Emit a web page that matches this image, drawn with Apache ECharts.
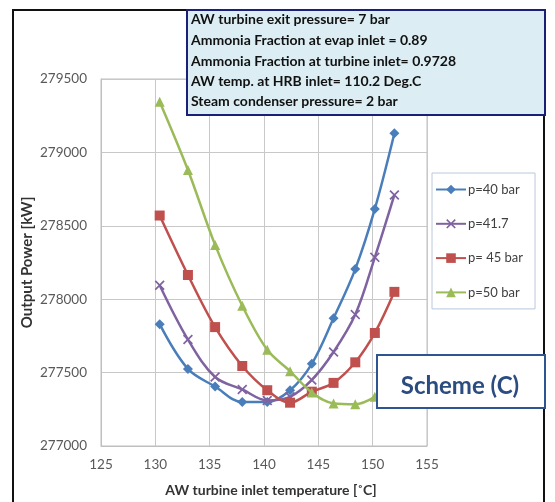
<!DOCTYPE html>
<html>
<head>
<meta charset="utf-8">
<script src="https://cdn.jsdelivr.net/npm/echarts@6/dist/echarts.min.js"></script>
<style>
html,body{margin:0;padding:0;background:#fff;}
#chart{width:555px;height:502px;}
</style>
</head>
<body>
<div id="chart"></div>
<script>
// Data
var temps = [130.4, 133.0, 135.5, 138.0, 140.3, 142.4, 144.4, 146.4, 148.4, 150.2, 152.0];
var p40  = [277830, 277525, 277405, 277300, 277300, 277380, 277560, 277870, 278205, 278615, 279130];
var p417 = [278095, 277725, 277470, 277385, 277310, 277335, 277450, 277640, 277895, 278285, 278710];
var p45  = [278570, 278165, 277810, 277545, 277380, 277295, 277370, 277430, 277570, 277770, 278050];
var p50  = [279345, 278880, 278370, 277955, 277655, 277510, 277365, 277290, 277285, 277335];
var seriesNames = ['p=40 bar', 'p=41.7', 'p= 45 bar', 'p=50 bar'];
var xTicks = [125, 130, 135, 140, 145, 150, 155];
var yTicks = [277000, 277500, 278000, 278500, 279000, 279500];
var infoLines = [
  'AW turbine exit pressure= 7 bar',
  'Ammonia Fraction at evap inlet = 0.89',
  'Ammonia Fraction at turbine inlet= 0.9728',
  'AW temp. at HRB inlet= 110.2 Deg.C',
  'Steam condenser pressure= 2 bar'
];
var schemeLabel = 'Scheme (C)';
var xTitle = 'AW turbine inlet temperature [\u02daC]';
var yTitle = 'Output Power [kW]';

function pairs(ys) { return ys.map(function (v, i) { return [temps[i], v]; }); }

var FONT = 'Lato, "Open Sans", sans-serif';
var colors = ['#4A7EBB', '#7F63A1', '#C0504D', '#9BBB59'];
var xPath = 'path://M0,1.2 L1.2,0 L5,3.8 L8.8,0 L10,1.2 L6.2,5 L10,8.8 L8.8,10 L5,6.2 L1.2,10 L0,8.8 L3.8,5 Z';
var symbols = ['diamond', xPath, 'rect', 'triangle'];
var symbolSizes = [10, 10, 10, 10];
var allData = [p40, p417, p45, p50];

var series = allData.map(function (d, i) {
  return {
    name: seriesNames[i],
    type: 'line',
    data: pairs(d),
    smooth: 0.35,
    symbol: symbols[i],
    symbolSize: symbolSizes[i],
    showAllSymbol: true,
    lineStyle: { color: colors[i], width: 2.5 },
    itemStyle: { color: colors[i] },
    z: 2 + i
  };
});

var graphics = [
  { type: 'rect', shape: { x: 13, y: 10, width: 531, height: 520 },
    style: { fill: null, stroke: '#111', lineWidth: 2 }, z: 50 },
  { type: 'rect', shape: { x: 187, y: 10, width: 358, height: 105 },
    style: { fill: '#DCEEF4', stroke: '#1A1F78', lineWidth: 2 }, z: 60 },
  { type: 'rect', shape: { x: 377, y: 355, width: 168, height: 53 },
    style: { fill: '#ffffff', stroke: '#2F5590', lineWidth: 2 }, z: 60 },
  { type: 'text', x: 460, y: 386, z: 61,
    style: { text: schemeLabel, font: 'bold 24px ' + FONT, fill: '#2A4C80',
      textAlign: 'center', textVerticalAlign: 'middle' } }
];
var lineYs = [19, 40, 61, 81, 101];
infoLines.forEach(function (t, i) {
  graphics.push({ type: 'text', x: 191, y: lineYs[i], z: 61,
    style: { text: t, font: 'bold 14px ' + FONT, fill: '#111',
      textAlign: 'left', textVerticalAlign: 'middle' } });
});

var chart = echarts.init(document.getElementById('chart'), null, { renderer: 'canvas' });
chart.setOption({
  animation: false,
  backgroundColor: '#ffffff',
  color: colors,
  textStyle: { fontFamily: FONT },
  grid: { left: 101, top: 79, right: 128, bottom: 55, show: true,
    borderColor: '#BFBFBF', borderWidth: 1, backgroundColor: 'transparent' },
  legend: {
    data: seriesNames,
    orient: 'vertical',
    left: 432, top: 173,
    padding: [10, 12, 10, 3],
    itemWidth: 30, itemHeight: 12, itemGap: 21.3,
    backgroundColor: '#ffffff',
    borderColor: '#B9C8DC', borderWidth: 1,
    textStyle: { fontSize: 13, color: '#404040', fontFamily: FONT, padding: [0, 0, 0, -3] }
  },
  xAxis: {
    type: 'value', min: xTicks[0], max: xTicks[xTicks.length - 1], interval: 5,
    name: xTitle, nameLocation: 'middle', nameGap: 37,
    nameTextStyle: { fontSize: 14, fontWeight: 'bold', color: '#333', fontFamily: FONT,
      padding: [0, 0, 0, 14] },
    axisLine: { show: true, onZero: false, lineStyle: { color: '#BFBFBF' } },
    axisTick: { show: false },
    axisLabel: { fontSize: 13.5, color: '#595959', margin: 12, fontFamily: FONT },
    splitLine: { show: true, lineStyle: { color: '#C8C8C8', width: 1 } }
  },
  yAxis: {
    type: 'value', min: yTicks[0], max: yTicks[yTicks.length - 1], interval: 500,
    name: yTitle, nameLocation: 'middle', nameGap: 66, nameRotate: 90,
    nameMoveOverlap: false,
    nameTextStyle: { fontSize: 15, fontWeight: 'bold', color: '#333', fontFamily: FONT },
    axisLine: { show: true, lineStyle: { color: '#BFBFBF' } },
    axisTick: { show: false },
    axisLabel: { fontSize: 13.5, color: '#595959', margin: 14, fontFamily: FONT,
      formatter: function (v) { return String(v); } },
    splitLine: { show: true, lineStyle: { color: '#C8C8C8', width: 1 } }
  },
  graphic: graphics,
  series: series
});
</script>
</body>
</html>
